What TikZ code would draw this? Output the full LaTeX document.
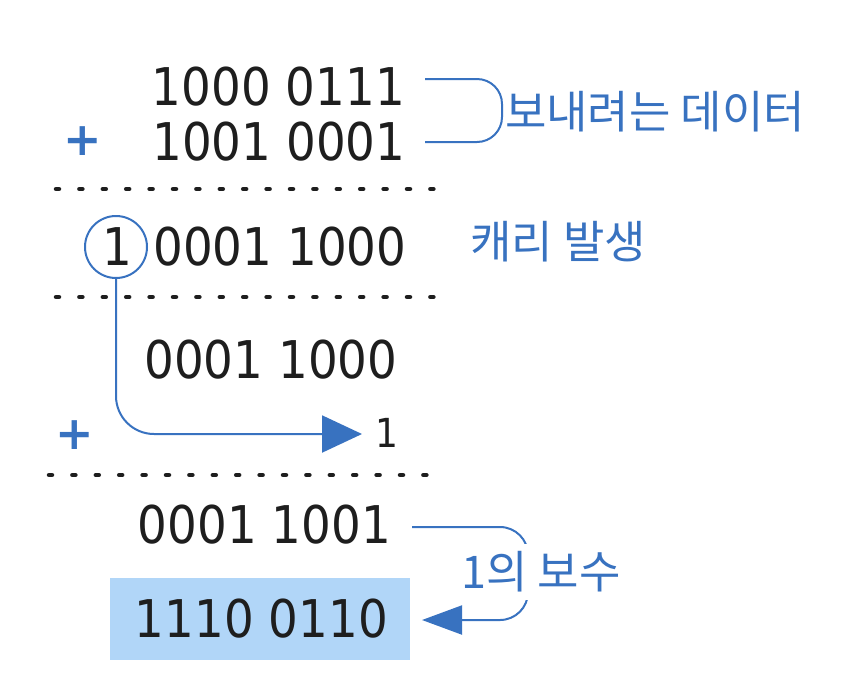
\documentclass[tikz,border=0pt]{standalone}
\usepackage{fontspec}
\usetikzlibrary{arrows.meta}
\newfontfamily\digitfont[FakeStretch=0.9]{DejaVu Sans}
\newfontfamily\plusfont{DejaVu Sans}
\newfontfamily\kofont{Noto Sans CJK KR}
\definecolor{cblue}{HTML}{3872C0}
\definecolor{cblack}{HTML}{1E1E1E}
\definecolor{cbox}{HTML}{B1D6F8}
\begin{document}
\begin{tikzpicture}[x=1pt,y=-1pt,
  num/.style={inner sep=0pt, anchor=base, text=cblack, font=\digitfont\fontsize{52}{52}\selectfont},
  smallnum/.style={inner sep=0pt, anchor=base, text=cblack, font=\digitfont\fontsize{40}{40}\selectfont},
  plussign/.style={inner sep=0pt, text=cblue, font=\plusfont\bfseries\fontsize{46}{46}\selectfont},
  kolabel/.style={inner sep=0pt, text=cblue, font=\kofont\fontsize{45}{45}\selectfont},
  conn/.style={draw=cblue, line width=2pt},
  dotline/.style={draw=cblack, line width=4.5pt, line cap=round, dash pattern=on 3pt off 20.4pt},
  arrowtip/.style={-{Triangle[length=40pt,width=37pt]}},
  arrowtipsmall/.style={-{Triangle[length=40pt,width=29pt]}}]
\useasboundingbox (0,0) rectangle (842,694);

% rows
\node[num] (r1) at (278.5,105) {1000 0111};
\node[num] (r2) at (279,160) {1001 0001};
\node[plussign] (p1) at (83,141) {+};
\draw[dotline] (56,189) -- (436,189);

\node[num] (c1) at (117.5,265) {1};
\node[num] (r3) at (280,265) {0001 1000};
\node[draw=cblue, line width=2pt, circle, minimum size=62pt, inner sep=0pt] (cc) at (116,247) {};
\node[kolabel] (carry) at (558,242) {캐리 발생};
\draw[dotline] (56,297) -- (436,297);

\node[num] (r4) at (271,378) {0001 1000};
\node[smallnum] (one) at (386.5,447) {1};
\node[plussign] (p2) at (75,435) {+};
\coordinate (tip1) at (362,434);
\draw[conn, arrowtip, rounded corners=38pt] (cc.south) |- (tip1);
\draw[dotline] (49,475) -- (431,475);

\node[num] (r5) at (264.5,543) {0001 1001};
\fill[cbox] (110,578) rectangle (410,660);
\node[num] (res) at (261.5,637) {1110 0110};

% top bracket
\coordinate (b1) at (425,79);
\coordinate (b2) at (502,79);
\coordinate (b3) at (502,142);
\coordinate (b4) at (425,142);
\draw[conn, rounded corners=25pt] (b1) -- (b2) -- (b3) -- (b4);
\node[kolabel] (data) at (655,112) {보내려는 데이터};

% bottom bracket
\coordinate (d1) at (412,527);
\coordinate (d2) at (528,527);
\coordinate (d3) at (528,620);
\coordinate (d4) at (422,620);
\draw[conn, arrowtipsmall, rounded corners=28pt] (d1) -- (d2) -- (d3) -- (d4);
\node[kolabel, fill=white, inner xsep=1pt, inner ysep=8pt] (comp) at (541,572) {1의 보수};
\end{tikzpicture}
\end{document}
